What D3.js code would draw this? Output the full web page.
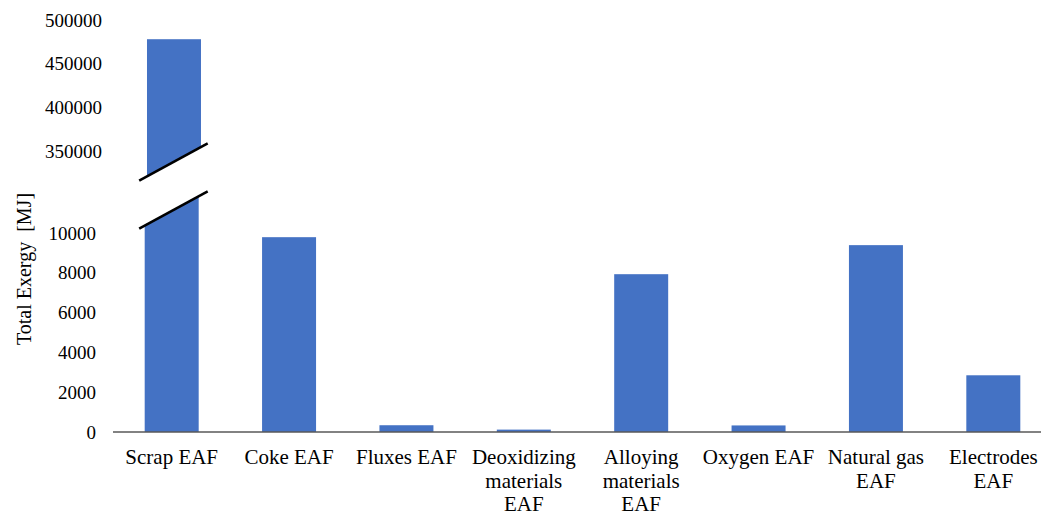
<!DOCTYPE html>
<html>
<head>
<meta charset="utf-8">
<script src="https://cdn.jsdelivr.net/npm/d3@7"></script>
<style>
  html, body { margin: 0; padding: 0; background: #fff; }
  svg { display: block; }
  text { font-family: "Liberation Serif", "Times New Roman", serif; fill: #000; }
</style>
</head>
<body>
<svg id="chart" width="1041" height="518"></svg>
<script>
// Exergy inputs of the electric arc furnace route
const categories = [
  "Scrap EAF", "Coke EAF", "Fluxes EAF", "Deoxidizing materials EAF",
  "Alloying materials EAF", "Oxygen EAF", "Natural gas EAF", "Electrodes EAF"
];
const categoryLines = [
  ["Scrap EAF"], ["Coke EAF"], ["Fluxes EAF"], ["Deoxidizing", "materials", "EAF"],
  ["Alloying", "materials", "EAF"], ["Oxygen EAF"], ["Natural gas", "EAF"], ["Electrodes", "EAF"]
];
const exergy = [478000, 9790, 340, 120, 7930, 330, 9390, 2850]; // MJ

const lowerTicks = [0, 2000, 4000, 6000, 8000, 10000];
const upperTicks = [350000, 400000, 450000, 500000];
const lowerDomain = [0, 12000];
const upperDomain = [320000, 500000];

const svg = d3.select("#chart");
const barColor = "#4472C4";

const x = d3.scaleBand()
  .domain(categories)
  .range([113, 1052])
  .paddingInner(0.54)
  .paddingOuter(0.27);

const yLow = d3.scaleLinear().domain(lowerDomain).range([432, 193.2]);
const yHigh = d3.scaleLinear().domain(upperDomain).range([177.2, 20]);

const data = categories.map((c, i) => ({ cat: c, value: exergy[i], lines: categoryLines[i] }));

// Lower panel bars (clipped at the top of the lower range)
svg.append("g").selectAll("rect")
  .data(data)
  .join("rect")
  .attr("x", d => x(d.cat))
  .attr("width", x.bandwidth())
  .attr("y", d => yLow(Math.min(d.value, lowerDomain[1])))
  .attr("height", d => yLow(0) - yLow(Math.min(d.value, lowerDomain[1])))
  .attr("fill", barColor);

// Upper panel: only values that reach the upper range
const upper = svg.append("g").attr("transform", "translate(2.3,0)");
upper.selectAll("rect")
  .data(data.filter(d => d.value > upperDomain[0]))
  .join("rect")
  .attr("x", d => x(d.cat))
  .attr("width", x.bandwidth())
  .attr("y", d => yHigh(d.value))
  .attr("height", d => yHigh(upperDomain[0]) - yHigh(d.value))
  .attr("fill", barColor);

// Axis break marks across the tall bar
const bx0 = x(categories[0]) - 5.5;
const bx1 = x(categories[0]) + x.bandwidth() + 9;
const breakUpper = [[bx0, 180.7], [bx1, 143.3]];
const breakLower = [[bx0, 228.7], [bx1, 191.3]];
svg.append("polygon")
  .attr("points", [breakUpper[0], breakUpper[1], breakLower[1], breakLower[0]].map(p => p.join(",")).join(" "))
  .attr("fill", "#fff");
[breakUpper, breakLower].forEach(seg => {
  svg.append("line")
    .attr("x1", seg[0][0]).attr("y1", seg[0][1])
    .attr("x2", seg[1][0]).attr("y2", seg[1][1])
    .attr("stroke", "#000").attr("stroke-width", 2.6);
});

// Y axes (labels only)
const axLow = svg.append("g")
  .attr("transform", "translate(96,0)")
  .call(d3.axisLeft(yLow).tickValues(lowerTicks).tickSize(0).tickPadding(0).tickFormat(d3.format("d")));
axLow.attr("font-family", null);
axLow.select(".domain").remove();
axLow.selectAll("text").attr("font-size", 19).style("font-family", "'Liberation Serif', serif").attr("fill", "#000");

const axHigh = svg.append("g")
  .attr("transform", "translate(102,0)")
  .call(d3.axisLeft(yHigh).tickValues(upperTicks).tickSize(0).tickPadding(0).tickFormat(d3.format("d")));
axHigh.attr("font-family", null);
axHigh.select(".domain").remove();
axHigh.selectAll("text").attr("font-size", 19).style("font-family", "'Liberation Serif', serif").attr("fill", "#000");

// Baseline
svg.append("line")
  .attr("x1", 113).attr("x2", 1041)
  .attr("y1", yLow(0)).attr("y2", yLow(0))
  .attr("stroke", "#585858").attr("stroke-width", 1.5);

// Category labels
const lab = svg.append("g").selectAll("text")
  .data(data)
  .join("text")
  .attr("text-anchor", "middle")
  .attr("font-size", 21)
  .attr("x", d => x(d.cat) + x.bandwidth() / 2)
  .attr("y", 464);
lab.selectAll("tspan")
  .data(d => d.lines.map(l => ({ l, cx: x(d.cat) + x.bandwidth() / 2 })))
  .join("tspan")
  .attr("x", d => d.cx)
  .attr("dy", (d, i) => i === 0 ? 0 : 23.5)
  .text(d => d.l);

// Y axis title
svg.append("text")
  .attr("transform", "translate(30.5,269) rotate(-90)")
  .attr("text-anchor", "middle")
  .attr("font-size", 20)
  .attr("xml:space", "preserve")
  .style("white-space", "pre")
  .text("Total Exergy  [MJ]");
</script>
</body>
</html>
